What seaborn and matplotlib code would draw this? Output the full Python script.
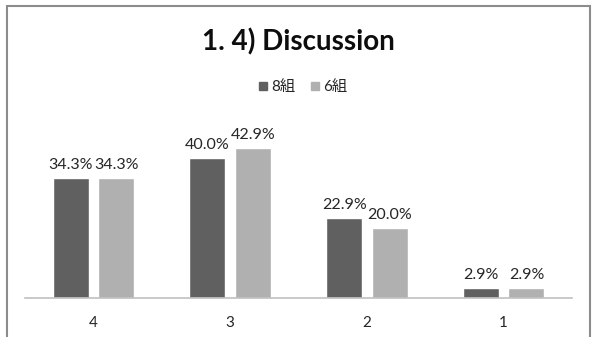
import matplotlib
matplotlib.use("Agg")
import matplotlib.pyplot as plt
from matplotlib.lines import Line2D
from matplotlib.patches import Rectangle
import seaborn as sns
import pandas as pd

# Ratings shown left to right, and the share of each class giving that rating
categories = ["4", "3", "2", "1"]
groups = ["8組", "6組"]
values_8 = [34.3, 40.0, 22.9, 2.9]
values_6 = [34.3, 42.9, 20.0, 2.9]
palette = {"8組": "#606060", "6組": "#b0b0b0"}

df = pd.DataFrame({
    "rating": categories * 2,
    "group": [groups[0]] * len(categories) + [groups[1]] * len(categories),
    "pct": values_8 + values_6,
})

sns.set_theme(style="white")
plt.rcParams["font.family"] = ["Lato", "Noto Sans CJK JP", "DejaVu Sans"]

fig = plt.figure(figsize=(5.97, 3.37), dpi=100)
ax = fig.add_axes([25 / 597, 39 / 337, 547 / 597, 175 / 337])

sns.barplot(data=df, x="rating", y="pct", hue="group", order=categories,
            hue_order=groups, palette=palette, width=0.666, gap=0.21,
            saturation=1, legend=False, ax=ax)

# percentage labels above each bar
for container in ax.containers:
    ax.bar_label(container, labels=[f"{v:.1f}%" for v in container.datavalues],
                 padding=4, fontsize=11.5, color="#262626")

ax.set_xlim(-0.5, 3.5)
ax.set_ylim(0, 50)
ax.set_xlabel("")
ax.set_ylabel("")
ax.set_yticks([])
for side in ["top", "right", "left"]:
    ax.spines[side].set_visible(False)
ax.spines["bottom"].set_color("#c0c0c0")
ax.spines["bottom"].set_linewidth(1.2)
ax.tick_params(axis="x", length=0, pad=13, labelsize=11, labelcolor="#262626")

fig.text(0.5, 1 - 42 / 337, "1. 4) Discussion", ha="center", va="center",
         fontsize=20, fontweight="bold", color="#0d0d0d")

handles = [Line2D([], [], marker="s", linestyle="", markersize=6,
                  markerfacecolor=palette[g], markeredgecolor=palette[g], label=g)
           for g in groups]
fig.legend(handles=handles, loc="center", bbox_to_anchor=(302 / 597, 1 - 87 / 337),
           ncol=2, frameon=False, fontsize=11, handlelength=0.8,
           handletextpad=0.15, columnspacing=0.9, labelcolor="#262626")

# chart border
fig.patches.append(Rectangle((7 / 597, -0.1), (590 - 7) / 597, 1.1 - 6 / 337,
                             transform=fig.transFigure, fill=False,
                             edgecolor="#8c8c8c", linewidth=1.5))

fig.savefig("out.png", dpi=100)
